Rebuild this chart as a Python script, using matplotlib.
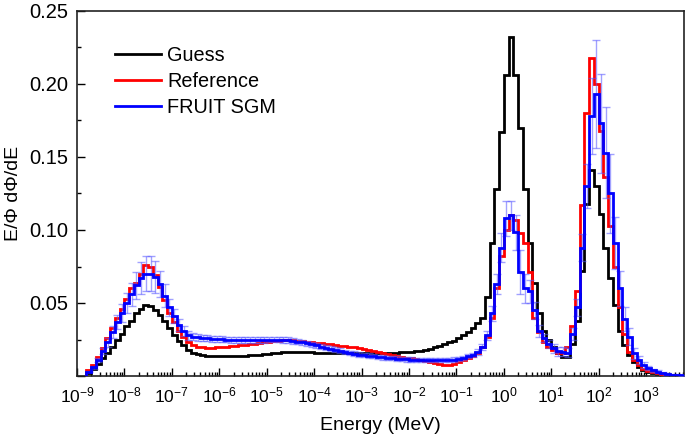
import numpy as np
import matplotlib
matplotlib.use('Agg')
import matplotlib.pyplot as plt
from matplotlib.ticker import LogLocator, LogFormatterSciNotation, MultipleLocator, FuncFormatter, NullFormatter

plt.rcParams['font.family'] = ['Liberation Sans', 'DejaVu Sans']
plt.rcParams['mathtext.fontset'] = 'custom'
plt.rcParams['mathtext.rm'] = 'Liberation Sans'
plt.rcParams['mathtext.it'] = 'Liberation Sans:italic'
plt.rcParams['mathtext.default'] = 'regular'
plt.rcParams['axes.unicode_minus'] = False

# energy groups: 10 per decade, from 10^-8.8 to 10^3.8 MeV
log_lo, log_hi, per_decade = -8.8, 3.8, 10
edges = 10 ** np.linspace(log_lo, log_hi, int(round((log_hi - log_lo) * per_decade)) + 1)

# Guess spectrum (black)
guess = [
    0.002, 0.005, 0.008, 0.012, 0.016, 0.020, 0.025, 0.029,
    0.034, 0.038, 0.043, 0.046, 0.0485, 0.048, 0.045, 0.042, 0.038, 0.033,
    0.028, 0.024, 0.021, 0.018, 0.016, 0.015, 0.0143, 0.014, 0.0137, 0.0136,
    0.0135, 0.0135, 0.0135, 0.0136, 0.0137, 0.0139, 0.0141, 0.0144, 0.0147, 0.015,
    0.0153, 0.0156, 0.0159, 0.0161, 0.0163, 0.0164, 0.0164, 0.0164, 0.0163, 0.0162,
    0.016, 0.0159, 0.0157, 0.0156, 0.0155, 0.0155, 0.0155, 0.0156, 0.0157, 0.0158,
    0.0158, 0.0159, 0.016, 0.016, 0.016, 0.016, 0.016, 0.016, 0.0161, 0.0163,
    0.0165, 0.0168, 0.0173, 0.018, 0.0188, 0.0197, 0.0207, 0.0218, 0.023, 0.0243,
    0.026, 0.028, 0.030, 0.033, 0.036, 0.040, 0.054, 0.091, 0.128, 0.167,
    0.206, 0.232, 0.206, 0.170, 0.128, 0.091, 0.064, 0.043, 0.031, 0.025,
    0.020, 0.016, 0.013, 0.013, 0.022, 0.038, 0.072, 0.118, 0.141, 0.130,
    0.111, 0.088, 0.067, 0.0485, 0.031, 0.021, 0.0143, 0.0098, 0.0064, 0.004,
    0.003, 0.002, 0.0015, 0.001, 0.0007, 0.0005, 0.0003, 0.0002,
]

# Reference spectrum (red)
reference = [
    0.004, 0.0075, 0.013, 0.019, 0.026, 0.033, 0.040, 0.046,
    0.053, 0.060, 0.064, 0.070, 0.076, 0.0745, 0.069, 0.061, 0.052, 0.043,
    0.037, 0.031, 0.027, 0.023, 0.021, 0.020, 0.0197, 0.0195, 0.0195, 0.0196,
    0.0198, 0.020, 0.0203, 0.0206, 0.021, 0.0214, 0.0218, 0.0222, 0.0226, 0.023,
    0.0234, 0.0238, 0.0242, 0.0245, 0.0246, 0.0245, 0.0243, 0.024, 0.0236, 0.0232,
    0.0228, 0.0224, 0.022, 0.0216, 0.0212, 0.0208, 0.0204, 0.020, 0.0196, 0.019,
    0.0184, 0.0177, 0.017, 0.0163, 0.0155, 0.0148, 0.0141, 0.0135, 0.013, 0.0125,
    0.012, 0.0115, 0.011, 0.0103, 0.0095, 0.0087, 0.008, 0.0076, 0.0076, 0.0085,
    0.0095, 0.011, 0.012, 0.014, 0.016, 0.020, 0.027, 0.040, 0.060, 0.082,
    0.100, 0.110, 0.107, 0.098, 0.091, 0.071, 0.040, 0.030, 0.023, 0.020,
    0.018, 0.016, 0.016, 0.020, 0.034, 0.058, 0.117, 0.180, 0.218, 0.200,
    0.168, 0.136, 0.103, 0.075, 0.047, 0.029, 0.0166, 0.011, 0.0075, 0.005,
    0.0035, 0.0025, 0.0018, 0.0012, 0.0008, 0.0005, 0.0003, 0.0002,
]

# FRUIT SGM unfolded spectrum (blue) and its uncertainty
fruit = [
    0.003, 0.006, 0.011, 0.017, 0.023, 0.030, 0.037, 0.043,
    0.050, 0.056, 0.062, 0.067, 0.070, 0.070, 0.068, 0.063, 0.055, 0.047,
    0.041, 0.035, 0.031, 0.028, 0.027, 0.0265, 0.026, 0.0258, 0.0255, 0.0253,
    0.0252, 0.025, 0.0249, 0.0248, 0.0247, 0.0246, 0.0246, 0.0247, 0.0248, 0.0249,
    0.025, 0.025, 0.025, 0.0248, 0.0245, 0.0241, 0.0236, 0.023, 0.0223, 0.0216,
    0.0209, 0.0202, 0.0195, 0.0187, 0.018, 0.0172, 0.0165, 0.0158, 0.0152, 0.0147,
    0.0143, 0.014, 0.0136, 0.0132, 0.0128, 0.0125, 0.0122, 0.0119, 0.0116, 0.0114,
    0.0112, 0.0111, 0.011, 0.011, 0.011, 0.011, 0.011, 0.011, 0.0111, 0.0113,
    0.0116, 0.0125, 0.0135, 0.0145, 0.0166, 0.020, 0.028, 0.043, 0.063, 0.088,
    0.108, 0.110, 0.0986, 0.071, 0.060, 0.058, 0.045, 0.031, 0.026, 0.022,
    0.019, 0.017, 0.0166, 0.016, 0.029, 0.047, 0.088, 0.130, 0.178, 0.193,
    0.173, 0.153, 0.125, 0.091, 0.060, 0.039, 0.027, 0.0155, 0.011, 0.0075,
    0.0055, 0.004, 0.003, 0.002, 0.0015, 0.001, 0.0008, 0.0005,
]
fruit_err = [
    0.0005, 0.001, 0.0015, 0.002, 0.003, 0.004, 0.005, 0.006,
    0.007, 0.008, 0.009, 0.011, 0.012, 0.012, 0.011, 0.009, 0.008, 0.006,
    0.005, 0.004, 0.0035, 0.003, 0.0025, 0.0025, 0.002, 0.002, 0.002, 0.002,
    0.002, 0.002, 0.002, 0.002, 0.002, 0.002, 0.002, 0.002, 0.002, 0.002,
    0.002, 0.002, 0.002, 0.002, 0.002, 0.002, 0.002, 0.002, 0.002, 0.002,
    0.002, 0.002, 0.0018, 0.0018, 0.0017, 0.0017, 0.0016, 0.0016, 0.0016, 0.0016,
    0.0015, 0.0015, 0.0015, 0.0015, 0.0015, 0.0015, 0.0015, 0.0015, 0.0015, 0.0015,
    0.0015, 0.0015, 0.0015, 0.0015, 0.0015, 0.0015, 0.0015, 0.0015, 0.0015, 0.0015,
    0.0015, 0.0015, 0.0015, 0.0015, 0.002, 0.002, 0.003, 0.005, 0.007, 0.010,
    0.012, 0.010, 0.012, 0.015, 0.010, 0.008, 0.006, 0.004, 0.003, 0.003,
    0.003, 0.003, 0.003, 0.003, 0.004, 0.006, 0.009, 0.015, 0.026, 0.037,
    0.034, 0.031, 0.027, 0.018, 0.012, 0.008, 0.006, 0.004, 0.003, 0.002,
    0.0015, 0.001, 0.001, 0.0008, 0.0006, 0.0005, 0.0004, 0.0003,
]

centers = np.sqrt(edges[:-1] * edges[1:])

fig = plt.figure(figsize=(6.85, 4.38), dpi=100)
ax = fig.add_axes([77 / 685, 1 - 376 / 438, 607 / 685, 365 / 438])

ax.stairs(guess, edges, color='black', lw=2, label='Guess', zorder=2)
ax.stairs(reference, edges, color='#ff0000', lw=2, label='Reference', zorder=3)
ax.errorbar(centers, fruit, yerr=fruit_err, fmt='none', ecolor='#5555ff', alpha=0.55,
            elinewidth=1, capsize=3, capthick=1, zorder=4)
ax.stairs(fruit, edges, color='#0000ff', lw=2, label='FRUIT SGM', zorder=5)

ax.set_xscale('log')
ax.set_xlim(1e-9, 10 ** 3.8)
ax.set_ylim(0, 0.25)
ax.xaxis.set_major_locator(LogLocator(base=10, numticks=30))
ax.xaxis.set_major_formatter(LogFormatterSciNotation())
ax.xaxis.set_minor_locator(LogLocator(base=10, subs=np.arange(2, 10), numticks=30))
ax.xaxis.set_minor_formatter(NullFormatter())
ax.yaxis.set_major_locator(MultipleLocator(0.05))
ax.yaxis.set_minor_locator(MultipleLocator(0.025))
ax.yaxis.set_major_formatter(FuncFormatter(lambda v, p: '' if abs(v) < 1e-9 else '%.2f' % v))

ax.tick_params(which='both', direction='in', top=False, right=False)
ax.tick_params(which='major', length=6, width=1)
ax.tick_params(which='minor', length=3, width=1)
ax.tick_params(axis='x', labelsize=12.5, pad=7)
ax.tick_params(axis='y', labelsize=14.5, pad=6.5)
for sp in ax.spines.values():
    sp.set_linewidth(1.2)
    sp.set_color('#222222')

ax.set_xlabel('Energy (MeV)', fontsize=14, labelpad=8)
ax.set_ylabel('E/\u03a6 d\u03a6/dE', fontsize=14, labelpad=5)

ax.legend(loc='upper left', bbox_to_anchor=(0.063, 0.905), frameon=False, fontsize=14.3,
          handlelength=2.3, handletextpad=0.3, labelspacing=0.35, borderpad=0, borderaxespad=0)

fig.savefig('out.png', dpi=100)
